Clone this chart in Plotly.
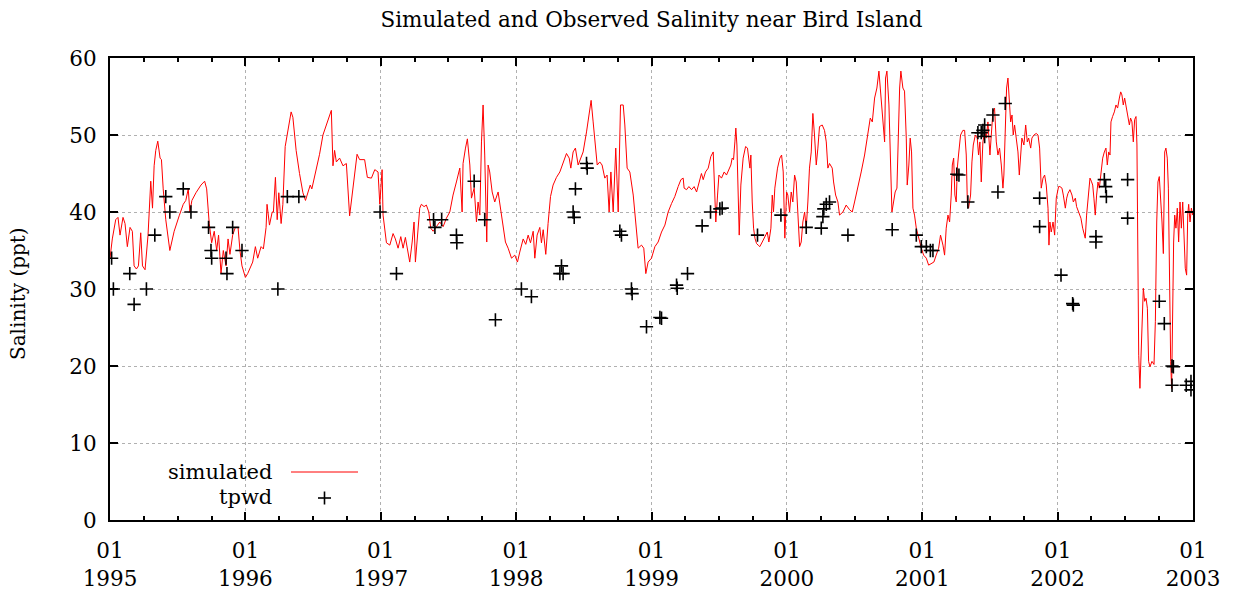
import plotly.graph_objects as go

# ---------------- simulated salinity (decimal year, ppt) ----------------
sim_t_1995 = [1995.000, 1995.017, 1995.042, 1995.059, 1995.074, 1995.096, 1995.111, 1995.128, 1995.148, 1995.165,
              1995.178, 1995.195, 1995.210, 1995.227, 1995.240, 1995.259, 1995.281, 1995.301, 1995.314, 1995.326,
              1995.338, 1995.353, 1995.370, 1995.380, 1995.393, 1995.412, 1995.442, 1995.474, 1995.511, 1995.541,
              1995.560, 1995.578, 1995.590, 1995.605, 1995.635, 1995.672, 1995.699, 1995.714, 1995.733, 1995.751,
              1995.770, 1995.788, 1995.802, 1995.820, 1995.837, 1995.857, 1995.872, 1995.886, 1995.906, 1995.926,
              1995.946, 1995.960, 1995.975]
sim_v_1995 = [34, 36.5, 39, 39.3, 37, 39.3, 38.5, 35.5, 38, 37.5,
              33, 32.6, 33, 37.3, 33, 32.5, 37, 44, 40.5, 46,
              48, 49.2, 47, 46.8, 43, 39, 35, 37.5, 39.5, 41,
              41.5, 43, 40, 41.5, 42.5, 43.5, 44, 43, 38.5, 36,
              37.5, 35, 37, 32, 35, 33, 36.5, 34.5, 37, 38,
              38, 35, 33]

sim_t_1996 = [1996.000, 1996.017, 1996.054, 1996.074, 1996.091, 1996.116, 1996.133, 1996.153, 1996.160, 1996.178,
              1996.198, 1996.207, 1996.222, 1996.235, 1996.247, 1996.264, 1996.277, 1996.294, 1996.316, 1996.338,
              1996.351, 1996.375, 1996.400, 1996.425, 1996.444, 1996.462, 1996.479, 1996.491, 1996.511, 1996.548,
              1996.573, 1996.610, 1996.635, 1996.647, 1996.659, 1996.672, 1996.696, 1996.721, 1996.746, 1996.770,
              1996.790, 1996.807, 1996.825, 1996.844, 1996.881, 1996.901, 1996.931, 1996.956, 1996.980, 1996.993]
sim_v_1996 = [31.5, 32, 33.5, 35.5, 34, 35.5, 35.2, 38, 41, 38.3,
              40, 40, 44.5, 39, 42.5, 38.5, 41, 48.5, 50.5, 53,
              52.3, 48, 45, 42.5, 41.5, 42.5, 43.5, 43, 44.5, 47.5,
              50, 52, 53.2, 46, 48, 46.5, 47, 46, 46.3, 39.5,
              42.5, 45, 47.5, 46.8, 46.8, 44.5, 44.4, 45.5, 45.2, 41]

sim_t_1997 = [1997.010, 1997.017, 1997.042, 1997.067, 1997.091, 1997.108, 1997.128, 1997.148, 1997.165, 1997.182,
              1997.202, 1997.214, 1997.232, 1997.246, 1997.256, 1997.271, 1997.288, 1997.300, 1997.320, 1997.337,
              1997.355, 1997.369, 1997.387, 1997.411, 1997.436, 1997.461, 1997.485, 1997.510, 1997.534, 1997.559,
              1997.584, 1997.601, 1997.608, 1997.626, 1997.640, 1997.658, 1997.670, 1997.690, 1997.707, 1997.719,
              1997.732, 1997.744, 1997.756, 1997.768, 1997.776, 1997.783, 1997.793, 1997.805, 1997.823, 1997.842,
              1997.867, 1997.887, 1997.904, 1997.921, 1997.941, 1997.966, 1997.990]
sim_v_1997 = [45.5, 39.6, 36, 35.7, 37.2, 36.5, 35.3, 36.8, 35.3, 36.7,
              34.8, 33.5, 36.1, 38.7, 33.5, 37, 40.5, 41, 40.7, 40.9,
              40, 37.9, 37.5, 38.1, 38.7, 38.1, 39.2, 40, 42.2, 43.9,
              45.7, 40, 46.3, 48.3, 49.5, 46.1, 41.8, 43.1, 38.7, 41.3,
              39.6, 49.1, 53.9, 47.4, 38.7, 36.1, 46.1, 45.2, 42.6, 41.3,
              42.6, 40, 37.9, 36.1, 35.3, 34, 34.4]

sim_t_1998 = [1998.010, 1998.027, 1998.052, 1998.071, 1998.089, 1998.106, 1998.126, 1998.138, 1998.155, 1998.175,
              1998.187, 1998.200, 1998.219, 1998.236, 1998.254, 1998.273, 1998.298, 1998.323, 1998.347, 1998.372,
              1998.392, 1998.404, 1998.421, 1998.438, 1998.458, 1998.475, 1998.495, 1998.520, 1998.539, 1998.554,
              1998.569, 1998.584, 1998.599, 1998.618, 1998.635, 1998.655, 1998.672, 1998.687, 1998.700, 1998.717,
              1998.736, 1998.754, 1998.771, 1998.791, 1998.803, 1998.820, 1998.840, 1998.865, 1998.884, 1998.901,
              1998.926, 1998.943, 1998.958, 1998.975]
sim_v_1998 = [33.5, 34.8, 36.5, 35.8, 37, 36, 37.5, 34, 37, 38,
              36, 37.7, 34.5, 38.5, 42, 43.5, 44.5, 45.2, 46.5, 47.6,
              47, 45.7, 47.8, 48.3, 46.1, 47, 47.8, 50.4, 52.6, 54.5,
              51.7, 49.1, 46.1, 46.5, 46.1, 44.4, 44.8, 40, 45.2, 40,
              48.3, 40, 53.9, 53.9, 51.3, 45.7, 45.2, 42.2, 37.9, 35.3,
              35.7, 35.3, 32, 33.5]

sim_t_1999 = [1999.000, 1999.025, 1999.049, 1999.074, 1999.099, 1999.123, 1999.148, 1999.172, 1999.197, 1999.217,
              1999.234, 1999.241, 1999.259, 1999.276, 1999.296, 1999.315, 1999.333, 1999.350, 1999.369, 1999.382,
              1999.399, 1999.419, 1999.438, 1999.456, 1999.468, 1999.475, 1999.488, 1999.498, 1999.517, 1999.537,
              1999.554, 1999.567, 1999.586, 1999.596, 1999.606, 1999.616, 1999.623, 1999.631, 1999.640, 1999.648,
              1999.660, 1999.677, 1999.695, 1999.709, 1999.727, 1999.734, 1999.744, 1999.754, 1999.764, 1999.776,
              1999.788, 1999.800, 1999.818, 1999.837, 1999.855, 1999.867, 1999.882, 1999.892, 1999.901, 1999.911,
              1999.931, 1999.948, 1999.961, 1999.973, 1999.985, 1999.998]
sim_v_1999 = [34, 35.5, 36.1, 37.4, 38.3, 40, 41.1, 42, 43.3, 44.2,
              44.4, 43.1, 42.9, 43.3, 42.9, 43.3, 42.6, 43.7, 45, 44.2,
              45.2, 45.7, 47.2, 47.8, 42.2, 38.7, 42.2, 44.8, 44.4, 45.2,
              44.8, 45.4, 46.1, 47, 46.8, 49.1, 50.9, 48.7, 43.9, 37,
              43.5, 47, 48.5, 48.3, 45.7, 47.4, 41.3, 37.9, 36.6, 35.9,
              35.7, 35.5, 36.1, 36.8, 37.4, 36.1, 37.9, 42.2, 40, 43.1,
              45.7, 47, 47.4, 45.2, 36.6, 42.6]

sim_t_2000 = [2000.007, 2000.020, 2000.032, 2000.044, 2000.057, 2000.069, 2000.081, 2000.094, 2000.106, 2000.118,
              2000.131, 2000.143, 2000.155, 2000.167, 2000.180, 2000.192, 2000.204, 2000.217, 2000.229, 2000.241,
              2000.261, 2000.278, 2000.291, 2000.303, 2000.315, 2000.335, 2000.345, 2000.360, 2000.377, 2000.389,
              2000.414, 2000.438, 2000.463, 2000.483, 2000.500, 2000.525, 2000.549, 2000.574, 2000.599, 2000.616,
              2000.631, 2000.648, 2000.665, 2000.680, 2000.690, 2000.704, 2000.722, 2000.729, 2000.739, 2000.754,
              2000.766, 2000.776, 2000.788, 2000.800, 2000.813, 2000.823, 2000.833, 2000.842, 2000.857, 2000.869,
              2000.882, 2000.889, 2000.901, 2000.911, 2000.921, 2000.931, 2000.943, 2000.956, 2000.968, 2000.980,
              2000.993]
sim_v_2000 = [42.2, 40, 42.6, 41.3, 44.8, 43.9, 40, 35.5, 36.1, 38.7,
              40, 37.9, 41.3, 45.7, 47.8, 52.8, 50, 46.1, 48.3, 51.1,
              51.3, 50.6, 49.1, 45.7, 46.3, 45.7, 43.9, 42.2, 41.3, 39.6,
              40, 40.9, 40.3, 40, 41.3, 43.1, 45.2, 47.4, 50.4, 52.2,
              51.7, 54.8, 56.1, 58.3, 56.1, 52.6, 49.1, 57.4, 58.3, 53.9,
              46.1, 40, 41.3, 42.6, 43.1, 50.9, 56.1, 58.3, 56.1, 55.7,
              49.6, 43.5, 46.1, 49.6, 47.8, 40.5, 39.6, 37.9, 37, 36.1,
              35.3]

sim_t_2001 = [2001.010, 2001.030, 2001.047, 2001.067, 2001.086, 2001.103, 2001.121, 2001.135, 2001.153, 2001.165,
              2001.177, 2001.190, 2001.202, 2001.214, 2001.222, 2001.232, 2001.241, 2001.251, 2001.259, 2001.268,
              2001.283, 2001.300, 2001.313, 2001.325, 2001.333, 2001.342, 2001.357, 2001.367, 2001.377, 2001.392,
              2001.406, 2001.416, 2001.426, 2001.436, 2001.448, 2001.461, 2001.473, 2001.485, 2001.500, 2001.510,
              2001.522, 2001.534, 2001.547, 2001.559, 2001.571, 2001.584, 2001.596, 2001.603, 2001.613, 2001.623,
              2001.633, 2001.643, 2001.653, 2001.663, 2001.672, 2001.682, 2001.695, 2001.707, 2001.717, 2001.727,
              2001.736, 2001.751, 2001.764, 2001.776, 2001.786, 2001.801, 2001.810, 2001.825, 2001.842, 2001.855,
              2001.867, 2001.879, 2001.892, 2001.904, 2001.916, 2001.929, 2001.936, 2001.943, 2001.953, 2001.966,
              2001.978, 2001.990]
sim_v_2001 = [34.4, 34, 33.1, 33.3, 33.5, 34.4, 35.3, 37, 35.7, 34.4,
              37.9, 39.6, 38.7, 42.2, 46.1, 47, 42.2, 41.3, 45.7, 47.4,
              50, 50.6, 50.6, 47.4, 41.3, 40.5, 42.2, 46.5, 48.7, 50,
              49.6, 47.4, 49.1, 43.9, 49.1, 50.4, 49.6, 51.7, 47.4, 50,
              53, 53.5, 49.1, 47.4, 48.3, 46.1, 43.1, 44.8, 51.7, 56.1,
              57.4, 53.9, 51.7, 52.6, 50, 51.3, 49.1, 47.8, 44.8, 48.3,
              49.6, 48.7, 51.3, 49.1, 49.6, 48.3, 49.6, 50, 50.2, 50,
              48.3, 43.1, 44.4, 44.8, 43.5, 40.5, 35.7, 38.7, 37.4, 38.7,
              37, 41.8]

sim_t_2002 = [2002.007, 2002.017, 2002.032, 2002.042, 2002.057, 2002.067, 2002.076, 2002.091, 2002.106, 2002.116,
              2002.131, 2002.140, 2002.155, 2002.172, 2002.185, 2002.197, 2002.204, 2002.214, 2002.229, 2002.239,
              2002.249, 2002.259, 2002.268, 2002.278, 2002.288, 2002.298, 2002.308, 2002.320, 2002.333, 2002.345,
              2002.357, 2002.367, 2002.377, 2002.387, 2002.394, 2002.406, 2002.419, 2002.431, 2002.443, 2002.456,
              2002.466, 2002.475, 2002.485, 2002.495, 2002.505, 2002.517, 2002.530, 2002.539, 2002.549, 2002.559,
              2002.569, 2002.579, 2002.586, 2002.594, 2002.599, 2002.608, 2002.616, 2002.623, 2002.633, 2002.643,
              2002.653, 2002.663, 2002.672, 2002.682, 2002.697, 2002.712, 2002.722, 2002.732, 2002.741, 2002.751,
              2002.761, 2002.771, 2002.781, 2002.791, 2002.800, 2002.810, 2002.818, 2002.825, 2002.835, 2002.842,
              2002.850, 2002.857, 2002.865, 2002.874, 2002.884, 2002.894, 2002.904, 2002.914, 2002.924, 2002.933,
              2002.943, 2002.953, 2002.961, 2002.968, 2002.978, 2002.988, 2002.998]
sim_v_2002 = [43.3, 43.3, 43.1, 42.2, 40.5, 41.8, 42.4, 42.9, 42.2, 41.3,
              41.8, 40.7, 40, 39.2, 37.9, 37, 36.6, 39.6, 42.2, 44.4,
              44, 43.5, 41.8, 39.6, 42.2, 43.9, 43.1, 44.8, 47, 47.8,
              48.3, 46.1, 47.8, 47.4, 51.7, 52.4, 53, 53.9, 53.5, 54.8,
              55.6, 55.2, 53.9, 54.8, 53.5, 52.6, 51.3, 52.2, 51.7, 49.1,
              52, 52.4, 48.7, 34.4, 21.4, 17.1, 21.4, 25.8, 30.1, 28.4,
              28.8, 27.5, 20.6, 19.9, 20.6, 20.2, 25.8, 38.7, 43.9, 44.6,
              42.2, 38.7, 34.6, 47.8, 48.3, 47, 43.1, 30.1, 20.6, 17.1,
              31, 36.1, 39.6, 37.9, 40.5, 36.1, 41.3, 37.9, 41.3, 36.1,
              32.7, 31.8, 39.6, 41, 38.7, 40.5, 39.6]

# ---------------- observed (tpwd) salinity ----------------
obs_t = [1995.012, 1995.025, 1995.146, 1995.178, 1995.269, 1995.331, 1995.412, 1995.442, 1995.541, 1995.598,
         1995.728, 1995.746, 1995.751, 1995.857, 1995.864, 1995.906, 1995.975, 1996.240, 1996.310, 1996.395,
         1996.995, 1997.116, 1997.390, 1997.400, 1997.450, 1997.559, 1997.562, 1997.690, 1997.768, 1997.847,
         1998.039, 1998.113, 1998.323, 1998.335, 1998.347, 1998.421, 1998.429, 1998.438, 1998.520, 1998.525,
         1998.766, 1998.778, 1998.852, 1998.857, 1998.963, 1999.062, 1999.074, 1999.185, 1999.190, 1999.266,
         1999.374, 1999.436, 1999.505, 1999.522, 1999.783, 1999.956, 2000.143, 2000.254, 2000.266, 2000.273,
         2000.291, 2000.315, 2000.451, 2000.778, 2000.956, 2000.993, 2001.030, 2001.060, 2001.079, 2001.255,
         2001.271, 2001.337, 2001.411, 2001.436, 2001.448, 2001.461, 2001.461, 2001.522, 2001.559, 2001.613,
         2001.867, 2001.867, 2002.025, 2002.111, 2002.116, 2002.283, 2002.283, 2002.345, 2002.355, 2002.360,
         2002.517, 2002.517, 2002.751, 2002.788, 2002.845, 2002.855, 2002.845, 2002.950, 2002.985, 2002.985]
obs_v = [34, 30, 32, 28, 30, 37, 42, 40, 43, 40,
         38, 35, 34, 34, 32, 38, 35, 30, 42, 42,
         40, 32, 39, 38, 39, 37, 36, 44, 39, 26,
         30, 29, 32, 33, 32, 40, 39.3, 43, 46.3, 45.7,
         37.5, 37, 30, 29.4, 25.1, 26.3, 26.2, 30.5, 30.1, 32,
         38.2, 40, 40.4, 40.5, 37, 39.6, 38, 37.9, 39.4, 40.4,
         41, 41.3, 37, 37.7, 37, 35.5, 35.5, 35, 35, 44.9,
         44.8, 41.3, 50.3, 50.3, 50.6, 51.3, 49.8, 52.6, 42.6, 54.1,
         41.8, 38.1, 31.8, 28.1, 27.9, 36.8, 36.1, 44.2, 43.3, 42,
         44.2, 39.2, 28.4, 25.5, 20, 19.9, 17.5, 17.5, 18, 16.9]

year_ticks = [1995, 1996, 1997, 1998, 1999, 2000, 2001, 2002, 2003]
year_labels = ["01<br>%d" % y for y in year_ticks]
sal_ticks = [0, 10, 20, 30, 40, 50, 60]

sim_t = (sim_t_1995 + sim_t_1996 + sim_t_1997 + sim_t_1998 + sim_t_1999
         + sim_t_2000 + sim_t_2001 + sim_t_2002)
sim_v = (sim_v_1995 + sim_v_1996 + sim_v_1997 + sim_v_1998 + sim_v_1999
         + sim_v_2000 + sim_v_2001 + sim_v_2002)
assert len(sim_t) == len(sim_v), (len(sim_t), len(sim_v))
assert len(obs_t) == len(obs_v), (len(obs_t), len(obs_v))

FONT = "DejaVu Serif"
TICK_SIZE = 21.5
TEXT_SIZE = 21

fig = go.Figure()
fig.add_trace(go.Scatter(x=sim_t, y=sim_v, mode="lines", name="simulated",
                         line=dict(color="#ff0000", width=1)))
fig.add_trace(go.Scatter(x=obs_t, y=obs_v, mode="markers", name="tpwd",
                         marker=dict(symbol="cross-thin", size=9.5, color="black",
                                     line=dict(color="black", width=1.6))))

axis_common = dict(showline=True, linecolor="black", linewidth=2, mirror="ticks",
                   ticks="inside", ticklen=8, tickwidth=1.5, tickcolor="black",
                   showgrid=True, gridcolor="#b0b0b0", griddash="dot", gridwidth=1,
                   zeroline=False, automargin=False,
                   tickfont=dict(family=FONT, size=TICK_SIZE, color="black"))

fig.update_layout(
    width=1233, height=594,
    margin=dict(l=110, r=40, t=58, b=74),
    paper_bgcolor="white", plot_bgcolor="white",
    showlegend=False,
    font=dict(family=FONT, size=TEXT_SIZE, color="black"),
    title=dict(text="Simulated and Observed Salinity near Bird Island",
               x=0.5, xref="paper", xanchor="center",
               y=1 - 19 / 594, yref="container", yanchor="middle",
               font=dict(family=FONT, size=21.5, color="black")),
    xaxis=dict(range=[1995, 2003], tickmode="array", tickvals=year_ticks, ticktext=year_labels,
               ticklabelstandoff=10,
               minor=dict(tickmode="linear", tick0=1995, dtick=0.25, ticks="inside",
                          ticklen=4, tickwidth=1.5, tickcolor="black", showgrid=False),
               **axis_common),
    yaxis=dict(range=[0, 60], tickmode="array", tickvals=sal_ticks, ticklabelstandoff=7,
               **axis_common),
    annotations=[
        dict(text="Salinity (ppt)", textangle=-90, xref="paper", yref="paper",
             x=(18 - 110) / 1083, y=(520 - 294) / 462, xanchor="center", yanchor="middle",
             showarrow=False, font=dict(family=FONT, size=20, color="black")),
        dict(text="simulated", xref="paper", yref="paper", x=(274 - 110) / 1083, y=(520 - 472) / 462,
             xanchor="right", yanchor="middle", showarrow=False,
             font=dict(family=FONT, size=TEXT_SIZE, color="black")),
        dict(text="tpwd", xref="paper", yref="paper", x=(274 - 110) / 1083, y=(520 - 497) / 462,
             xanchor="right", yanchor="middle", showarrow=False,
             font=dict(family=FONT, size=TEXT_SIZE, color="black")),
    ],
    shapes=[
        dict(type="line", xref="paper", yref="paper",
             x0=(291 - 110) / 1083, x1=(358 - 110) / 1083,
             y0=(520 - 472) / 462, y1=(520 - 472) / 462,
             line=dict(color="#ff0000", width=1)),
        dict(type="line", xref="paper", yref="paper",
             x0=(318 - 110) / 1083, x1=(331 - 110) / 1083,
             y0=(520 - 498) / 462, y1=(520 - 498) / 462,
             line=dict(color="black", width=1.6)),
        dict(type="line", xref="paper", yref="paper",
             x0=(324.5 - 110) / 1083, x1=(324.5 - 110) / 1083,
             y0=(520 - 491.5) / 462, y1=(520 - 504.5) / 462,
             line=dict(color="black", width=1.6)),
    ],
)

fig.write_html("out.html", config={"displayModeBar": False},
               post_script="document.body.style.margin='0px';")
